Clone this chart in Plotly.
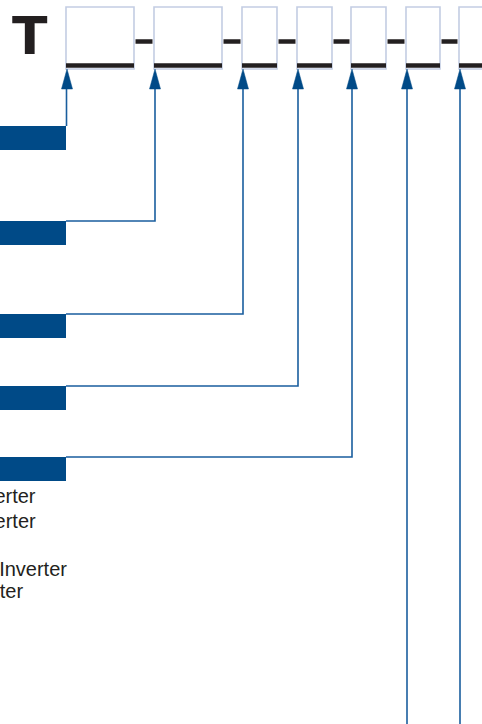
import plotly.graph_objects as go

# ---- diagram data ----
prefix_label = "T"
box_left = [66, 154, 242, 297, 351, 406, 459]
box_right = [134, 222, 277, 332, 386, 440, 494]
box_top, box_bottom = 7, 69
underline_y = 65.5
dash_y = 41.5
arrow_x = [67, 155, 243, 298, 352, 407, 460]
arrow_tip, arrow_base = 69, 89
bar_right = 66
bar_top = [126, 221, 314, 386, 457]
bar_height = 24
legend_texts = ["Standard Inverter", "Smart Inverter", "Digital Inverter", "Non-Inverter"]
legend_right = [38, 38, 69, 25]
legend_baseline = [503, 528, 576, 598]

W, H = 482, 724
DARK = "#231f20"
NAVY = "#004a87"
LINE = "#1a5e9e"
BOX = "#c3cde3"
FONT = "Liberation Sans, Arial, Helvetica, sans-serif"

fig = go.Figure()

# bars (horizontal)
fig.add_trace(go.Bar(
    orientation="h",
    x=[bar_right] * len(bar_top),
    y=[t + bar_height / 2 for t in bar_top],
    width=[bar_height] * len(bar_top),
    base=0,
    marker=dict(color=NAVY, line=dict(width=0)),
    hoverinfo="skip",
))

shapes = []
# boxes
for l, r in zip(box_left, box_right):
    shapes.append(dict(type="rect", x0=l, x1=r, y0=box_top, y1=box_bottom,
                       line=dict(color=BOX, width=1.6), fillcolor="white", layer="below"))

# underlines under each box
for l, r in zip(box_left, box_right):
    fig.add_trace(go.Scatter(x=[l, r], y=[underline_y, underline_y], mode="lines",
                             line=dict(color=DARK, width=4.5), hoverinfo="skip"))
# dashes between boxes
for i in range(len(box_left) - 1):
    fig.add_trace(go.Scatter(x=[box_right[i] + 1.5, box_left[i + 1] - 1.5], y=[dash_y, dash_y],
                             mode="lines", line=dict(color=DARK, width=4.5), hoverinfo="skip"))

# connector lines
for i, ax in enumerate(arrow_x):
    if i < len(bar_top):
        if i == 0:
            xs, ys = [ax - 0.5, ax - 0.5], [arrow_base, bar_top[i]]
        else:
            xs, ys = [ax, ax, bar_right], [arrow_base, bar_top[i], bar_top[i]]
    else:
        xs, ys = [ax, ax], [arrow_base, H]
    fig.add_trace(go.Scatter(x=xs, y=ys, mode="lines",
                             line=dict(color=LINE, width=1.6), hoverinfo="skip"))

# arrow heads
for ax in arrow_x:
    fig.add_trace(go.Scatter(x=[ax - 5.5, ax, ax + 5.5, ax - 5.5],
                             y=[arrow_base, arrow_tip, arrow_base, arrow_base],
                             mode="lines", fill="toself", fillcolor=NAVY,
                             line=dict(color=NAVY, width=0.5), hoverinfo="skip"))

annotations = [dict(x=29.5, y=36, xref="x", yref="y", text=prefix_label, showarrow=False,
                    xanchor="center", yanchor="middle",
                    font=dict(family="DejaVu Sans", size=52, color=DARK, weight="bold"))]
for t, xr, yb in zip(legend_texts, legend_right, legend_baseline):
    annotations.append(dict(x=xr, y=yb - 7, xref="x", yref="y", text=t, showarrow=False,
                            xanchor="right", yanchor="middle",
                            font=dict(family=FONT, size=20, color=DARK)))

fig.update_layout(
    width=W, height=H,
    margin=dict(l=0, r=0, t=0, b=0),
    paper_bgcolor="white", plot_bgcolor="white",
    showlegend=False,
    xaxis=dict(range=[0, W], visible=False, fixedrange=True),
    yaxis=dict(range=[H, 0], visible=False, fixedrange=True),
    shapes=shapes,
    annotations=annotations,
    bargap=0,
)

fig.write_html("out.html", config={"displayModeBar": False},
               post_script="document.body.style.margin='0';document.body.style.overflow='hidden';")
